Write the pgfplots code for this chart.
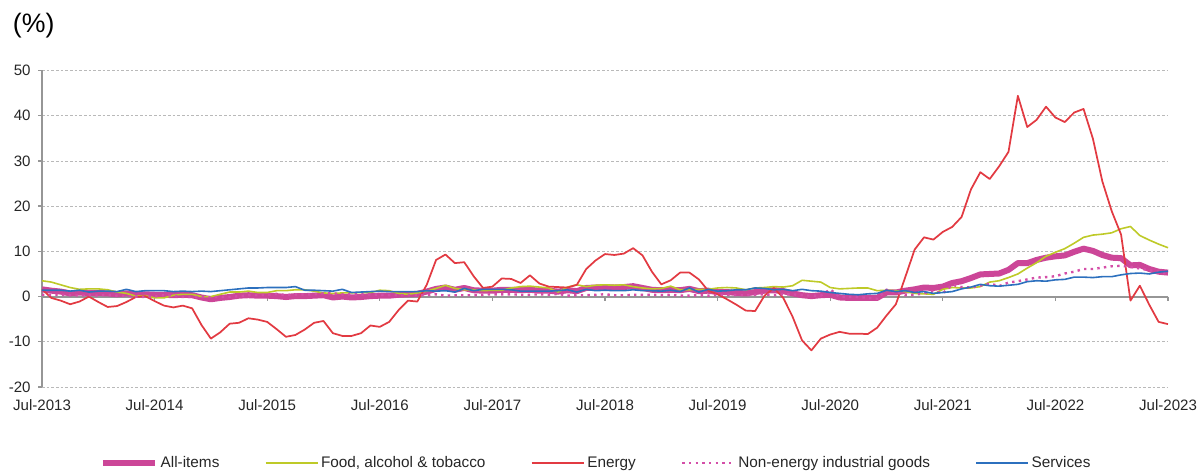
\documentclass[border=0pt]{standalone}
\usepackage{fontspec}
\setmainfont{Liberation Sans}
\usepackage{pgfplots}
\pgfplotsset{compat=1.18}
\usepackage{pgfplotstable}

\definecolor{cAll}{RGB}{204,70,152}
\definecolor{cFood}{RGB}{190,202,40}
\definecolor{cEn}{RGB}{226,58,66}
\definecolor{cNeig}{RGB}{212,78,168}
\definecolor{cServ}{RGB}{44,112,190}
\definecolor{cAxis}{RGB}{150,150,150}
\definecolor{cGrid}{RGB}{185,185,185}

\pgfplotstableread{
all food energy neig serv
1.6 3.5 1.6 0.4 1.4
1.3 3.2 -0.3 0.4 1.4
1.1 2.6 -0.9 0.4 1.4
0.7 2.0 -1.7 0.3 1.2
0.9 1.6 -1.1 0.2 1.4
0.8 1.7 0.0 0.3 1.0
0.8 1.7 -1.2 0.2 1.2
0.7 1.5 -2.3 0.4 1.2
0.5 1.0 -2.1 0.2 1.1
0.7 0.7 -1.2 0.1 1.6
0.5 0.1 -0.1 0.0 1.1
0.5 0.2 0.1 -0.1 1.3
0.4 -0.3 -1.0 0.0 1.3
0.4 -0.3 -2.0 0.3 1.3
0.3 0.3 -2.4 0.2 1.1
0.4 0.5 -2.0 -0.1 1.2
0.3 0.5 -2.6 -0.1 1.1
-0.2 0.0 -6.3 -0.1 1.2
-0.6 0.0 -9.3 -0.1 1.1
-0.3 0.5 -7.9 -0.1 1.3
-0.1 1.0 -6.0 -0.1 1.5
0.2 1.0 -5.8 0.1 1.7
0.3 1.2 -4.8 0.3 1.9
0.2 0.9 -5.1 0.3 1.9
0.2 0.9 -5.6 0.4 2.0
0.1 1.3 -7.2 0.6 2.0
-0.1 1.3 -8.9 0.3 2.0
0.1 1.5 -8.5 0.5 2.2
0.1 1.5 -7.3 0.5 1.4
0.2 1.2 -5.8 0.5 1.4
0.3 0.8 -5.4 0.7 1.3
-0.2 0.7 -8.1 0.7 1.2
0.0 0.8 -8.7 0.5 1.6
-0.2 0.8 -8.7 0.5 0.9
-0.1 0.9 -8.1 0.5 1.0
0.1 0.9 -6.4 0.5 1.1
0.2 1.4 -6.7 0.4 1.2
0.2 1.3 -5.6 0.3 1.1
0.4 0.7 -3.0 0.3 1.1
0.5 0.5 -0.9 0.3 1.1
0.6 0.8 -1.1 0.3 1.1
1.1 1.2 2.6 0.3 1.3
1.7 1.8 8.1 0.5 1.2
2.0 2.5 9.3 0.2 1.3
1.5 1.8 7.4 0.3 1.0
1.9 1.5 7.6 0.3 1.8
1.4 1.5 4.5 0.3 1.3
1.3 1.3 1.9 0.4 1.6
1.3 1.4 2.2 0.5 1.6
1.5 1.4 4.0 0.5 1.6
1.5 1.9 3.9 0.5 1.5
1.4 2.2 3.0 0.4 1.2
1.5 2.3 4.7 0.4 1.2
1.3 2.1 2.9 0.5 1.2
1.3 1.9 2.2 0.4 1.2
1.1 1.0 2.1 0.6 1.3
1.4 2.1 2.0 0.2 1.5
1.2 2.6 2.6 0.3 1.0
1.9 2.2 6.1 0.3 1.6
2.0 2.5 8.0 0.4 1.3
2.1 2.6 9.4 0.5 1.4
2.0 2.5 9.2 0.3 1.3
2.1 2.6 9.5 0.3 1.3
2.3 2.2 10.7 0.4 1.5
1.9 1.9 9.1 0.4 1.3
1.5 1.7 5.5 0.4 1.3
1.4 1.8 2.7 0.3 1.2
1.5 2.3 3.6 0.4 1.4
1.4 1.5 5.3 0.2 1.1
1.7 1.5 5.3 0.2 1.9
1.2 1.6 3.8 0.3 1.0
1.3 1.6 1.3 0.2 1.6
1.0 1.9 0.5 0.4 1.2
1.0 2.0 -0.6 0.4 1.3
0.8 1.9 -1.8 0.3 1.5
0.7 1.5 -3.1 0.3 1.5
1.0 1.9 -3.2 0.4 1.9
1.3 2.0 0.2 0.5 1.8
1.4 2.2 1.9 0.3 1.5
1.2 2.1 -0.3 0.5 1.6
0.7 2.4 -4.5 0.5 1.3
0.3 3.6 -9.7 0.3 1.6
0.1 3.4 -11.9 0.2 1.3
0.3 3.2 -9.3 0.2 1.2
0.4 2.0 -8.4 1.6 0.9
-0.2 1.7 -7.8 -0.1 0.7
-0.3 1.8 -8.2 -0.1 0.5
-0.3 1.9 -8.2 -0.1 0.4
-0.3 1.9 -8.3 -0.3 0.6
-0.3 1.3 -6.9 -0.5 0.7
0.9 1.4 -4.2 1.5 1.4
0.9 1.3 -1.7 1.0 1.1
1.3 1.1 4.3 0.3 1.3
1.6 0.7 10.4 0.4 0.9
2.0 0.6 13.1 0.7 1.1
1.9 0.5 12.6 1.2 0.7
2.2 1.6 14.3 0.7 0.9
3.0 2.0 15.4 2.6 1.1
3.4 1.9 17.6 2.1 1.7
4.1 1.9 23.7 2.0 2.1
4.9 2.2 27.5 2.4 2.7
5.0 3.2 26.0 2.9 2.4
5.1 3.5 28.8 2.3 2.3
5.9 4.2 32.0 3.1 2.5
7.4 5.0 44.4 3.4 2.7
7.4 6.3 37.5 3.8 3.3
8.1 7.5 39.1 4.2 3.5
8.6 8.9 42.0 4.3 3.4
8.9 9.8 39.6 4.5 3.7
9.1 10.6 38.6 5.1 3.8
9.9 11.8 40.7 5.5 4.3
10.6 13.1 41.5 6.1 4.3
10.1 13.6 34.9 6.1 4.2
9.2 13.8 25.5 6.4 4.4
8.6 14.1 18.9 6.7 4.4
8.5 15.0 13.7 6.8 4.8
6.9 15.5 -0.9 6.6 5.1
7.0 13.5 2.4 6.2 5.2
6.1 12.5 -1.8 5.8 5.0
5.5 11.6 -5.6 5.5 5.4
5.3 10.8 -6.1 5.0 5.6
}\hicp

\begin{document}
\begin{tikzpicture}[x=1pt,y=1pt]
\path[use as bounding box] (0,0) rectangle (903,354.75);
\node[font=\fontsize{20}{23}\selectfont, anchor=center, inner sep=0pt] at (25.3,335.6) {(\%)};
\begin{axis}[
  at={(31.5pt,64.5pt)}, anchor=south west,
  scale only axis, width=844.5pt, height=237.375pt,
  xmin=0, xmax=120, ymin=-20, ymax=50,
  axis x line*=bottom, axis y line*=left,
  x axis line style={draw=none},
  y axis line style={draw=cAxis, line width=1.5pt},
  xtick={0,12,...,120},
  xticklabels={Jul-2013,Jul-2014,Jul-2015,Jul-2016,Jul-2017,Jul-2018,Jul-2019,Jul-2020,Jul-2021,Jul-2022,Jul-2023},
  xtick style={draw=none},
  ytick={-20,-10,...,50},
  ytick style={draw=cAxis, line width=1pt},
  tick align=outside, major tick length=3pt,
  ymajorgrids,
  major grid style={draw=cGrid, line width=0.6pt, dash pattern=on 2pt off 1.5pt},
  /pgf/number format/assume math mode=true,
  tick label style={font=\fontsize{11.3}{13}\selectfont, text=black!85},
  yticklabel style={xshift=-2pt},
  xticklabel style={yshift=-3pt},
  legend columns=5,
  legend style={at={(0.4925,-0.24)}, anchor=center, draw=none, fill=none,
    font=\fontsize{11.5}{13}\selectfont, text=black!85,
    /tikz/every even column/.append style={column sep=32pt}},
  legend image code/.code={\draw[#1, line cap=butt] (0pt,0pt) -- (39pt,0pt);},
  clip=false,
]
\draw[cAxis, line width=1.5pt] (axis cs:0,0) -- (axis cs:120,0);
\pgfplotsinvokeforeach{0,12,24,36,48,60,72,84,96,108,120}{
  \draw[cAxis, line width=1pt] (axis cs:#1,0) -- ++(0pt,-3pt);
}
\addplot[cAll, line width=4.5pt, line join=round] table[x expr=\coordindex, y=all] {\hicp};
\addlegendentry{All-items}
\addplot[cFood, line width=1.2pt, line join=round] table[x expr=\coordindex, y=food] {\hicp};
\addlegendentry{Food, alcohol \& tobacco}
\addplot[cEn, line width=1.3pt, line join=round] table[x expr=\coordindex, y=energy] {\hicp};
\addlegendentry{Energy}
\addplot[cNeig, line width=1.8pt, dash pattern=on 1.8pt off 3.2pt] table[x expr=\coordindex, y=neig] {\hicp};
\addlegendentry{Non-energy industrial goods}
\addplot[cServ, line width=1.2pt, line join=round] table[x expr=\coordindex, y=serv] {\hicp};
\addlegendentry{Services}
\end{axis}
\end{tikzpicture}
\end{document}
